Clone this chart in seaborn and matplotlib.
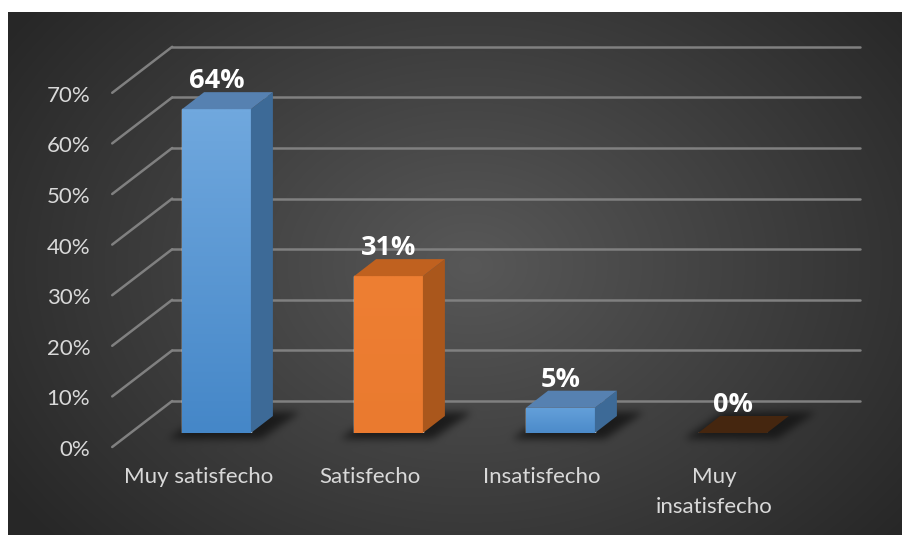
import numpy as np
import matplotlib
matplotlib.use("Agg")
import matplotlib.pyplot as plt
from matplotlib.patches import Polygon
from matplotlib.lines import Line2D
from matplotlib.transforms import IdentityTransform
import seaborn as sns

# ---- data ----
categories = ["Muy satisfecho", "Satisfecho", "Insatisfecho", "Muy\ninsatisfecho"]
values = [0.64, 0.31, 0.05, 0.0]
value_labels = ["64%", "31%", "5%", "0%"]
y_ticks = [0.0, 0.1, 0.2, 0.3, 0.4, 0.5, 0.6, 0.7]
y_tick_labels = ["0%", "10%", "20%", "30%", "40%", "50%", "60%", "70%"]

# face colours per category: (front top, front bottom, side, top)
face_colors = [
    ("#70a8de", "#4587c8", "#3d6a97", "#5681b1"),
    ("#ee7f33", "#ea7a2f", "#aa571c", "#c0611f"),
    ("#64a0da", "#4c8bca", "#3d6a97", "#5681b1"),
    ("#4a2a12", "#4a2a12", "#3a200c", "#45260f"),
]

W, H, DPI = 903, 535, 100
FONT = "Lato"
TEXT_COL = "#d9d9d9"

sns.set_theme(style="white")
plt.rcParams["font.family"] = [FONT, "DejaVu Sans"]

fig = plt.figure(figsize=(W / DPI, H / DPI), dpi=DPI)
fig.patch.set_facecolor("white")

# background panel axes (pixel coordinates, y downward)
bg = fig.add_axes([0, 0, 1, 1])
bg.set_xlim(0, W)
bg.set_ylim(H, 0)
bg.axis("off")
bg.set_zorder(-1)

# plot axes: front plane of the bars
floor_px = 433.0
px_per_unit = 506.0
left_px, right_px = 130.5, 818.5
ax = fig.add_axes([left_px / W, (H - floor_px) / H,
                   (right_px - left_px) / W, 0.75 * px_per_unit / H])
ax.patch.set_alpha(0)

sns.barplot(x=categories, y=values, hue=categories,
            palette=[c[1] for c in face_colors], width=0.4,
            saturation=1, legend=False, ax=ax, zorder=3)
ax.set_xlim(-0.5, len(categories) - 0.5)
ax.set_ylim(0, 0.75)
ax.set_xticks([])
ax.set_yticks([])
ax.set_xlabel("")
ax.set_ylabel("")
for s in ax.spines.values():
    s.set_visible(False)

ident = IdentityTransform()


def disp(x, y):
    return ax.transData.transform((x, y))


# 3-D geometry offsets in pixels (display y up)
WALL_DX, WALL_DY = 41.7, 32.0     # back wall relative to bar fronts
EDGE_DX, EDGE_DY = -18.3, -14.0   # front floor edge relative to bar fronts
DEPTH_DX, DEPTH_DY = 22.0, 17.0   # bar depth

grid_col = "#808080"
for v, lab in zip(y_ticks, y_tick_labels):
    lx, ly = disp(-0.5, v)
    rx, _ = disp(len(categories) - 0.5, v)
    # back wall gridline
    ax.add_line(Line2D([lx + WALL_DX, rx + WALL_DX], [ly + WALL_DY, ly + WALL_DY],
                       transform=ident, color=grid_col, lw=1.8, zorder=1, clip_on=False))
    # side wall diagonal
    ax.add_line(Line2D([lx + WALL_DX, lx + EDGE_DX], [ly + WALL_DY, ly + EDGE_DY],
                       transform=ident, color=grid_col, lw=1.8, zorder=1, clip_on=False))
    ax.text(lx + EDGE_DX - 22, ly + EDGE_DY - 3, lab, transform=ident,
            ha="right", va="center", fontsize=16, color=TEXT_COL, clip_on=False)

# category labels along the front floor edge
for i, cat in enumerate(categories):
    cx, cy = disp(i, 0)
    ax.text(cx + EDGE_DX, cy + EDGE_DY - 20, cat, transform=ident,
            ha="center", va="top", fontsize=16, color=TEXT_COL,
            linespacing=1.6, clip_on=False)

# 3-D faces, gradients and value labels
bars = list(ax.patches)
shadow_alpha = np.zeros((H, W))
yy, xx = np.mgrid[0:H, 0:W].astype(float)
for i, (bar, val, lab) in enumerate(zip(bars, values, value_labels)):
    ftop, fbot, side, top = face_colors[i]
    x0 = bar.get_x()
    x1 = x0 + bar.get_width()
    h = bar.get_height()
    (px0, py0) = disp(x0, 0)
    (px1, py1) = disp(x1, h)
    # front gradient
    if h > 0:
        grad = np.linspace(0, 1, 64)[:, None]
        c_top = np.array(matplotlib.colors.to_rgb(ftop))
        c_bot = np.array(matplotlib.colors.to_rgb(fbot))
        img = c_top[None, None, :] * (1 - grad[..., None]) + c_bot[None, None, :] * grad[..., None]
        im = ax.imshow(img, extent=(x0, x1, 0, h), aspect="auto", zorder=3.1,
                       interpolation="bilinear")
        im.set_clip_path(bar)
        ax.set_xlim(-0.5, len(categories) - 0.5)
        ax.set_ylim(0, 0.75)
        # side face
        ax.add_patch(Polygon([(px1, py0), (px1 + DEPTH_DX, py0 + DEPTH_DY),
                              (px1 + DEPTH_DX, py1 + DEPTH_DY), (px1, py1)],
                             closed=True, transform=ident, facecolor=side,
                             edgecolor="none", zorder=3.2))
    # top face
    ax.add_patch(Polygon([(px0, py1), (px1, py1), (px1 + DEPTH_DX, py1 + DEPTH_DY),
                          (px0 + DEPTH_DX, py1 + DEPTH_DY)],
                         closed=True, transform=ident, facecolor=top,
                         edgecolor="none", zorder=3.3))
    # value label
    ax.text((px0 + px1) / 2, py1 + 21, lab, transform=ident, ha="center",
            va="baseline", fontsize=19.5, fontweight="bold", color="white",
            family=["Open Sans", "DejaVu Sans"], zorder=5, clip_on=False)

    # soft floor shadow footprint (pixel space, y downward)
    fy = H - py0
    yb, yt = fy + 5, fy - DEPTH_DY - 4
    t = np.clip((yb - yy) / (yb - yt), 0, 1)
    xl = px0 - 14 + t * (DEPTH_DX + 16)
    xr = px1 + 10 + t * (DEPTH_DX + 16)
    m = ((yy <= yb) & (yy >= yt) & (xx >= xl) & (xx <= xr)).astype(float)
    shadow_alpha = np.maximum(shadow_alpha, m)


def blur(a, sigma):
    r = int(3 * sigma)
    k = np.exp(-0.5 * (np.arange(-r, r + 1) / sigma) ** 2)
    k /= k.sum()
    a = np.apply_along_axis(lambda v: np.convolve(v, k, mode="same"), 0, a)
    a = np.apply_along_axis(lambda v: np.convolve(v, k, mode="same"), 1, a)
    return a


shadow_alpha = blur(shadow_alpha, 4.0) * 0.85

# radial-gradient panel with shadow baked in
r = np.sqrt(((xx - 470) / 560) ** 2 + ((yy - 265) / 420) ** 2)
tt = np.clip(r, 0, 1)
g = (0x58 * (1 - tt) + 0x27 * tt) / 255.0
g = g * (1 - shadow_alpha) + 0.08 * shadow_alpha
panel = np.dstack([g, g, g])
panel[:12, :, :] = 1.0
panel[:, :8, :] = 1.0
bg.imshow(panel, extent=(0, W, H, 0), interpolation="nearest", aspect="auto")

fig.savefig("out.png", dpi=DPI, facecolor=fig.get_facecolor())
